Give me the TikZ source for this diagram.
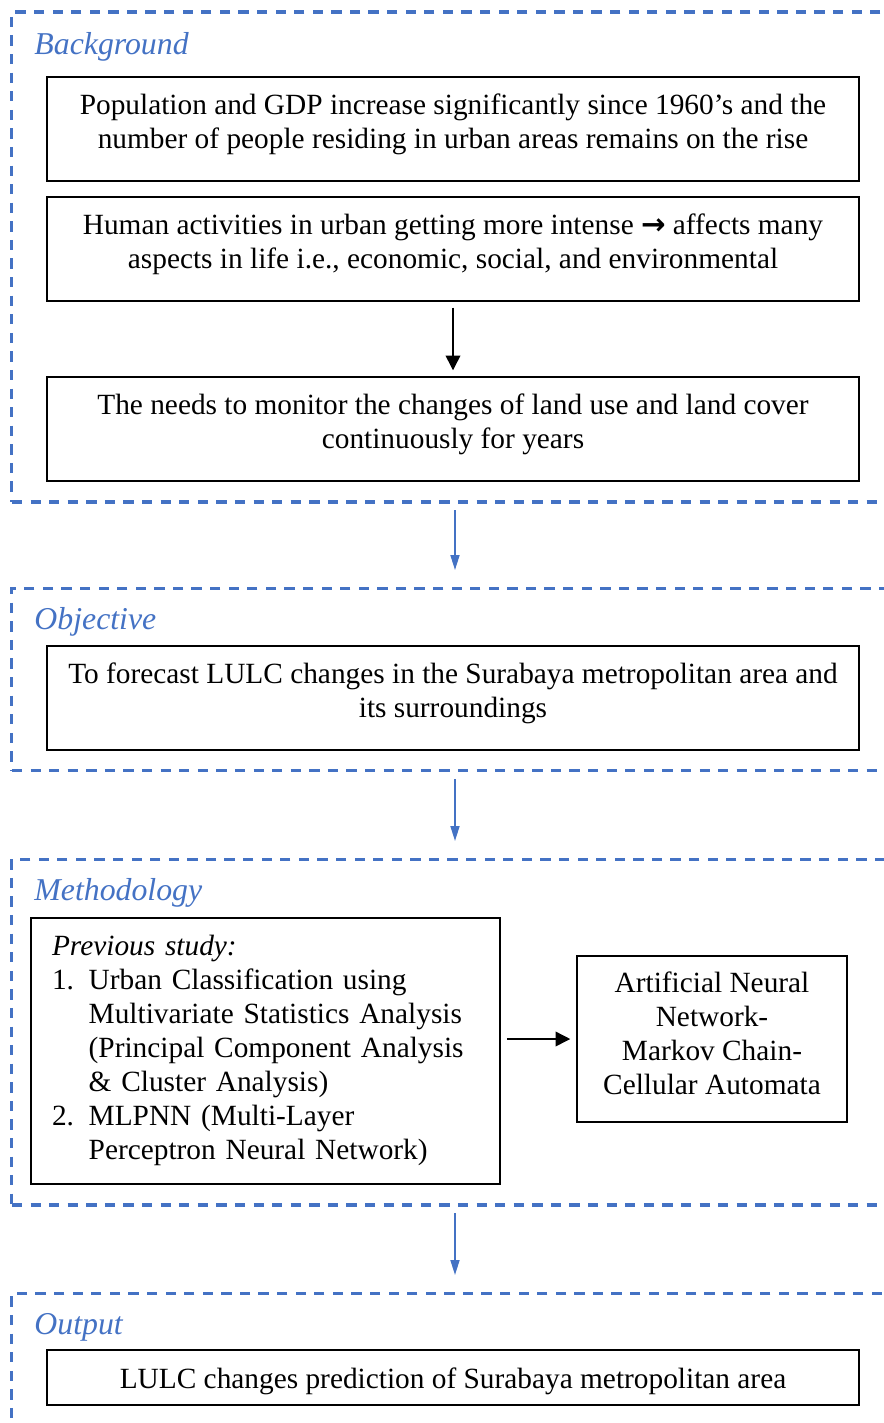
\documentclass[tikz,border=0pt]{standalone}
\usepackage{fontspec}
\setmainfont{Liberation Serif}
\newfontfamily\arrowfont{DejaVu Sans}
\usetikzlibrary{positioning}
\usetikzlibrary{arrows.meta}
\usetikzlibrary{calc}

\definecolor{frameblue}{HTML}{4472C4}
\newcommand{\botpad}[1]{\rule[-#1]{0pt}{#1}}
\newcommand{\itm}[1]{\makebox[15pt][l]{#1}}

\begin{document}
\begin{tikzpicture}[x=0.409pt, y=-0.409pt,
  every node/.style={font=\fontsize{12}{13.9}\selectfont},
  stageframe/.style={draw=frameblue, line width=1.25pt, dash pattern=on 4.2pt off 3.4pt, inner sep=0pt, minimum width=362.4pt},
  heading/.style={anchor=west, text=frameblue, font=\fontsize{13}{15}\selectfont\itshape, inner sep=0pt},
  textbox/.style={draw, line width=0.55pt, align=center, minimum width=332.1pt, minimum height=42.5pt},
  flowarrow/.style={line width=0.6pt, -{Triangle[length=6pt,width=6pt]}, shorten <=2.5pt, shorten >=2.5pt},
  stagearrow/.style={color=frameblue, line width=0.5pt, -{Triangle[length=6pt,width=3.7pt]}, shorten <=2.8pt, shorten >=6.8pt}]
\path[use as bounding box] (0,0) rectangle (884,1423);
\clip (0,0) rectangle (884,1423);

% dashed frames of the four stages
\path (455,257) node[stageframe, minimum height=200.4pt] (bgframe) {};
\path (455,679.5) node[stageframe, minimum height=74.8pt] (objframe) {};
\path (455,1032) node[stageframe, minimum height=141.5pt] (methframe) {};
\path (455,1371.5) node[stageframe, minimum height=64.2pt] (outframe) {};

\path (34,47) node[heading] (bghead) {Background};
\path (34,622) node[heading] (objhead) {Objective};
\path (34,893) node[heading] (methhead) {Methodology};
\path (34,1327) node[heading] (outhead) {Output};

\path (453,129) node[textbox] (pop) {Population and GDP increase significantly since 1960’s and the\\ number of people residing in urban areas remains on the rise\botpad{6.6pt}};
\path (453,249) node[textbox] (human) {Human activities in urban getting more intense {\arrowfont\bfseries →} affects many\\ aspects in life i.e., economic, social, and environmental\botpad{6.6pt}};
\path (453,429) node[textbox] (needs) {The needs to monitor the changes of land use and land cover\\ continuously for years\botpad{6.6pt}};
\path (453,698) node[textbox] (forecast) {To forecast LULC changes in the Surabaya metropolitan area and\\ its surroundings\botpad{6.6pt}};
\path (265.5,1051) node[textbox, align=left, minimum width=0pt, minimum height=108.8pt, text width=174.6pt, inner xsep=8.6pt] (prev) {\textit{Previous study:}\\
\itm{1.}Urban Classification using\\
\hspace*{15pt}Multivariate Statistics Analysis\\
\hspace*{15pt}(Principal Component Analysis\\
\hspace*{15pt}\& Cluster Analysis)\\
\itm{2.}MLPNN (Multi-Layer\\
\hspace*{15pt}Perceptron Neural Network)\botpad{3.2pt}};
\path (712,1039) node[textbox, minimum width=110.4pt, minimum height=67.9pt] (ann) {Artificial Neural\\ Network-\\ Markov Chain-\\ Cellular Automata\botpad{5pt}};
\path (453,1377.5) node[textbox, minimum height=22.5pt, text height=11.5pt, text depth=2.6pt] (predict) {LULC changes prediction of Surabaya metropolitan area};

\draw[flowarrow] (human) to (needs);
\draw[flowarrow] (prev.east |- ann.west) to (ann.west);

\draw[stagearrow] (bgframe) to (objframe);
\draw[stagearrow] (objframe) to (methframe);
\draw[stagearrow] (methframe) to (outframe);

\end{tikzpicture}
\end{document}
